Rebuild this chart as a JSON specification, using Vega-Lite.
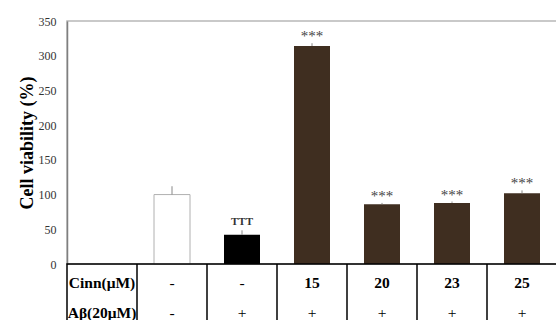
{
  "$schema": "https://vega.github.io/schema/vega-lite/v6.json",
  "padding": {"left": 17, "top": 14, "right": 0, "bottom": 0},
  "background": "white",
  "spacing": 0,
  "bounds": "flush",
  "config": {
    "font": "Liberation Serif",
    "concat": {"spacing": 0},
    "axisY": {
      "labelOverlap": false,
      "grid": false, "ticks": false,
      "domainColor": "#7f7f7f", "domainWidth": 1.5,
      "labelFont": "Liberation Serif", "labelFontSize": 12, "labelColor": "#333",
      "labelPadding": 11,
      "titleFont": "Liberation Serif", "titleFontSize": 18, "titleFontWeight": "bold",
      "titleColor": "#000", "titlePadding": 2
    }
  },
  "datasets": {
    "bars": [
      {"group": "Control", "value": 100, "upper": 112, "sig": ""},
      {"group": "Abeta", "value": 42, "upper": 48.5, "sig": "TTT"},
      {"group": "Cinn15", "value": 314, "upper": 318, "sig": "***"},
      {"group": "Cinn20", "value": 86, "upper": 88, "sig": "***"},
      {"group": "Cinn23", "value": 88, "upper": 90, "sig": "***"},
      {"group": "Cinn25", "value": 102, "upper": 106, "sig": "***"}
    ],
    "table": [
      {"group": "label", "row": "Cinn", "text": "Cinn(μM)"},
      {"group": "label", "row": "Ab", "text": "Aβ(20μM)"},
      {"group": "Control", "row": "Cinn", "text": "-"},
      {"group": "Control", "row": "Ab", "text": "-"},
      {"group": "Abeta", "row": "Cinn", "text": "-"},
      {"group": "Abeta", "row": "Ab", "text": "+"},
      {"group": "Cinn15", "row": "Cinn", "text": "15"},
      {"group": "Cinn15", "row": "Ab", "text": "+"},
      {"group": "Cinn20", "row": "Cinn", "text": "20"},
      {"group": "Cinn20", "row": "Ab", "text": "+"},
      {"group": "Cinn23", "row": "Cinn", "text": "23"},
      {"group": "Cinn23", "row": "Ab", "text": "+"},
      {"group": "Cinn25", "row": "Cinn", "text": "25"},
      {"group": "Cinn25", "row": "Ab", "text": "+"}
    ],
    "dividers": [
      {"group": "Control"}, {"group": "Abeta"}, {"group": "Cinn15"},
      {"group": "Cinn20"}, {"group": "Cinn23"}, {"group": "Cinn25"}
    ]
  },
  "vconcat": [
    {
      "width": 490,
      "height": 243,
      "view": {"stroke": "#b8b8b8", "strokeWidth": 1.5},
      "data": {"name": "bars"},
      "encoding": {
        "x": {
          "field": "group", "type": "nominal",
          "scale": {"domain": ["label", "Control", "Abeta", "Cinn15", "Cinn20", "Cinn23", "Cinn25"], "paddingInner": 0, "paddingOuter": 0},
          "axis": null
        },
        "y": {
          "field": "value", "type": "quantitative",
          "scale": {"domain": [0, 350], "nice": false},
          "axis": {"values": [0, 50, 100, 150, 200, 250, 300, 350], "labelOverlap": false, "title": "Cell viability (%)"}
        }
      },
      "layer": [
        {
          "mark": {"type": "bar", "size": 36},
          "encoding": {
            "color": {
              "field": "group", "type": "nominal", "legend": null,
              "scale": {
                "domain": ["Control", "Abeta", "Cinn15", "Cinn20", "Cinn23", "Cinn25"],
                "range": ["#ffffff", "#000000", "#3f2e20", "#3f2e20", "#3f2e20", "#3f2e20"]
              }
            },
            "stroke": {
              "condition": {"test": "datum.group === 'Control'", "value": "#b0b0b0"},
              "value": null
            }
          }
        },
        {
          "mark": {"type": "rule", "color": "#888", "strokeWidth": 1},
          "encoding": {
            "y2": {"field": "upper"}
          }
        },
        {
          "mark": {"type": "text", "baseline": "alphabetic", "dy": -2, "fontSize": 15, "color": "#444", "font": "Liberation Serif"},
          "transform": [{"filter": "datum.sig === '***'"}],
          "encoding": {
            "y": {"field": "upper", "type": "quantitative", "axis": {"values": [0, 50, 100, 150, 200, 250, 300, 350], "labelOverlap": false, "title": "Cell viability (%)"}},
            "text": {"field": "sig"}
          }
        },
        {
          "mark": {"type": "text", "baseline": "alphabetic", "dy": -5, "fontSize": 11, "fontWeight": "bold", "color": "#333", "font": "Liberation Serif"},
          "transform": [{"filter": "datum.sig === 'TTT'"}],
          "encoding": {
            "y": {"field": "upper", "type": "quantitative", "axis": {"values": [0, 50, 100, 150, 200, 250, 300, 350], "labelOverlap": false, "title": "Cell viability (%)"}},
            "text": {"field": "sig"}
          }
        }
      ]
    },
    {
      "width": 490,
      "height": 60,
      "view": {"stroke": "#000", "strokeWidth": 1.5},
      "encoding": {
        "x": {
          "field": "group", "type": "nominal",
          "scale": {"domain": ["label", "Control", "Abeta", "Cinn15", "Cinn20", "Cinn23", "Cinn25"], "paddingInner": 0, "paddingOuter": 0},
          "axis": null
        }
      },
      "layer": [
        {
          "data": {"name": "dividers"},
          "mark": {"type": "rule", "color": "#000", "strokeWidth": 1.5},
          "encoding": {
            "x": {
              "field": "group", "type": "nominal", "bandPosition": 0,
              "scale": {"domain": ["label", "Control", "Abeta", "Cinn15", "Cinn20", "Cinn23", "Cinn25"], "paddingInner": 0, "paddingOuter": 0},
              "axis": null
            }
          }
        },
        {
          "data": {"name": "table"},
          "transform": [{"filter": "datum.group === 'label' || (datum.row === 'Cinn' && datum.text !== '-')"}],
          "mark": {"type": "text", "fontSize": 15.5, "fontWeight": "bold", "dy": 4, "color": "#000", "font": "Liberation Serif"},
          "encoding": {
            "y": {"field": "row", "type": "nominal", "scale": {"domain": ["Cinn", "Ab"], "paddingInner": 0, "paddingOuter": 0}, "axis": null},
            "text": {"field": "text"}
          }
        },
        {
          "data": {"name": "table"},
          "transform": [{"filter": "!(datum.group === 'label' || (datum.row === 'Cinn' && datum.text !== '-'))"}],
          "mark": {"type": "text", "fontSize": 15.5, "dy": 4, "color": "#000", "font": "Liberation Serif"},
          "encoding": {
            "y": {"field": "row", "type": "nominal", "scale": {"domain": ["Cinn", "Ab"], "paddingInner": 0, "paddingOuter": 0}, "axis": null},
            "text": {"field": "text"}
          }
        }
      ]
    }
  ]
}
